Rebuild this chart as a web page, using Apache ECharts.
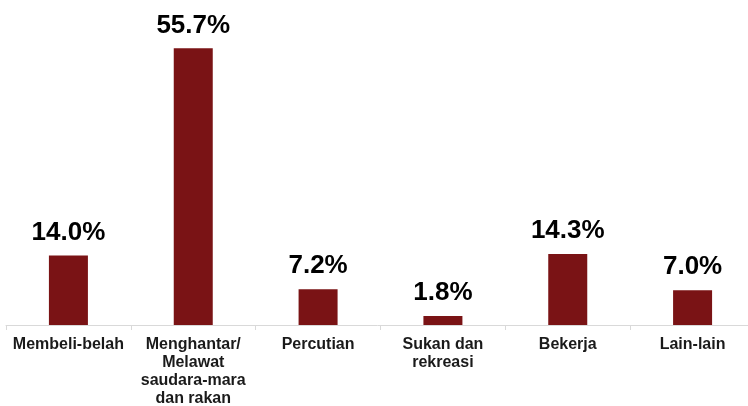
<!DOCTYPE html>
<html>
<head>
<meta charset="utf-8">
<style>
  html, body { margin: 0; padding: 0; background: #fff; }
  #chart { width: 748px; height: 406px; }
</style>
<script src="https://cdn.jsdelivr.net/npm/echarts@6/dist/echarts.min.js"></script>
</head>
<body>
<div id="chart"></div>
<script>
const categories = [
  'Membeli-belah',
  'Menghantar/\nMelawat\nsaudara-mara\ndan rakan',
  'Percutian',
  'Sukan dan\nrekreasi',
  'Bekerja',
  'Lain-lain'
];
const values = [14.0, 55.7, 7.2, 1.8, 14.3, 7.0];

const chart = echarts.init(document.getElementById('chart'));

chart.setOption({
  animation: false,
  grid: { left: 6, top: 27, width: 749, bottom: 81, containLabel: false, outerBoundsMode: 'none' },
  xAxis: {
    type: 'category',
    data: categories,
    axisLine: { lineStyle: { color: '#d9d9d9', width: 1 } },
    axisTick: { show: true, length: 5, lineStyle: { color: '#d9d9d9' } },
    axisLabel: {
      interval: 0,
      margin: 11,
      color: '#1a1a1a',
      fontFamily: 'Liberation Sans, Arial, sans-serif',
      fontWeight: 'bold',
      fontSize: 16,
      lineHeight: 18
    }
  },
  yAxis: {
    type: 'value',
    min: 0,
    max: 60,
    show: false,
    splitLine: { show: false }
  },
  series: [{
    type: 'bar',
    data: values,
    barWidth: 39,
    itemStyle: { color: '#7a1315' },
    label: {
      show: true,
      position: 'top',
      distance: 10,
      color: '#000',
      fontFamily: 'Liberation Sans, Arial, sans-serif',
      fontWeight: 'bold',
      fontSize: 26,
      formatter: p => p.value.toFixed(1) + '%'
    }
  }]
});
</script>
</body>
</html>
